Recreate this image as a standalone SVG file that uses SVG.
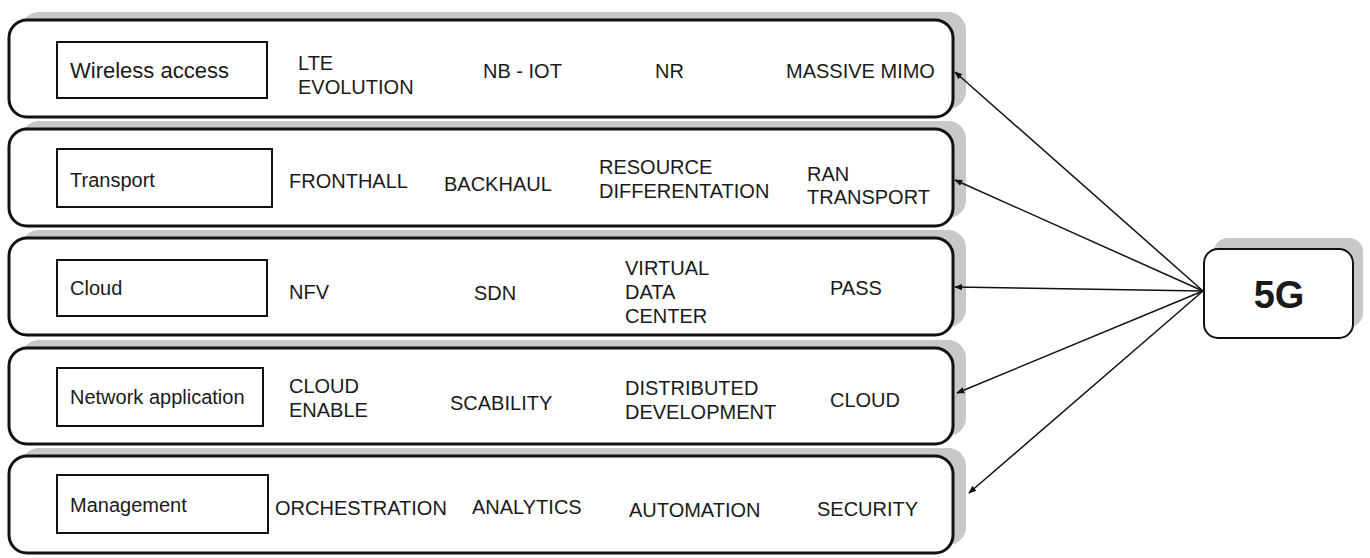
<svg xmlns="http://www.w3.org/2000/svg" width="1370" height="558" viewBox="0 0 1370 558">
<style>
.sh{fill:#c8c8c8}
.row{fill:#fff;stroke:#111;stroke-width:3}
.lbl{fill:#fff;stroke:#111;stroke-width:2}
text{font-family:"Liberation Sans",Arial,sans-serif;font-size:20px;fill:#1a1a1a}
.big{font-size:22px}
.g5{font-size:38px;font-weight:bold;text-anchor:middle}
.con{stroke:#111;stroke-width:1.5;fill:none;marker-end:url(#ah)}
</style>
<defs>
<marker id="ah" viewBox="0 0 10 10" refX="9" refY="5" markerWidth="8" markerHeight="8" markerUnits="userSpaceOnUse" orient="auto">
<path d="M0,1 L10,5 L0,9 z" fill="#111"/>
</marker>
</defs>
<rect width="1370" height="558" fill="#fff"/>

<g id="wireless">
<rect class="sh" x="21" y="12" width="945" height="97" rx="18"/>
<rect class="row" x="9" y="20" width="944" height="97" rx="18"/>
<rect class="lbl" x="57" y="42" width="210" height="56"/>
<text class="big" x="70" y="78">Wireless access</text>
<text x="298" y="70">LTE</text>
<text x="298" y="94">EVOLUTION</text>
<text x="483" y="78">NB - IOT</text>
<text x="655" y="78">NR</text>
<text x="786" y="78">MASSIVE MIMO</text>
</g>

<g id="transport">
<rect class="sh" x="21" y="121" width="945" height="97" rx="18"/>
<rect class="row" x="9" y="129" width="944" height="97" rx="18"/>
<rect class="lbl" x="57" y="149" width="215" height="58"/>
<text x="70" y="187">Transport</text>
<text x="289" y="188">FRONTHALL</text>
<text x="444" y="191">BACKHAUL</text>
<text x="599" y="174">RESOURCE</text>
<text x="599" y="198">DIFFERENTATION</text>
<text x="807" y="181">RAN</text>
<text x="807" y="204">TRANSPORT</text>
</g>

<g id="cloud">
<rect class="sh" x="21" y="230" width="945" height="97" rx="18"/>
<rect class="row" x="9" y="238" width="944" height="97" rx="18"/>
<rect class="lbl" x="57" y="260" width="210" height="56"/>
<text x="70" y="295">Cloud</text>
<text x="289" y="299">NFV</text>
<text x="474" y="300">SDN</text>
<text x="625" y="275">VIRTUAL</text>
<text x="625" y="299">DATA</text>
<text x="625" y="323">CENTER</text>
<text x="830" y="295">PASS</text>
</g>

<g id="netapp">
<rect class="sh" x="21" y="340" width="945" height="96" rx="18"/>
<rect class="row" x="9" y="348" width="944" height="96" rx="18"/>
<rect class="lbl" x="57" y="368" width="206" height="58"/>
<text x="70" y="404">Network application</text>
<text x="289" y="393">CLOUD</text>
<text x="289" y="417">ENABLE</text>
<text x="450" y="410">SCABILITY</text>
<text x="625" y="395">DISTRIBUTED</text>
<text x="625" y="419">DEVELOPMENT</text>
<text x="830" y="407">CLOUD</text>
</g>

<g id="management">
<rect class="sh" x="21" y="448" width="945" height="97" rx="18"/>
<rect class="row" x="9" y="456" width="944" height="97" rx="18"/>
<rect class="lbl" x="57" y="475" width="211" height="58"/>
<text x="70" y="512">Management</text>
<text x="275" y="515">ORCHESTRATION</text>
<text x="472" y="514">ANALYTICS</text>
<text x="629" y="517">AUTOMATION</text>
<text x="817" y="516">SECURITY</text>
</g>

<g id="n5g">
<rect class="sh" x="1214" y="238" width="149" height="89" rx="14"/>
<rect x="1204" y="249" width="149" height="89" rx="14" fill="#fff" stroke="#111" stroke-width="2"/>
<text class="g5" x="1279" y="308">5G</text>
</g>

<g id="connectors">
<line class="con" x1="1203" y1="291" x2="955" y2="72"/>
<line class="con" x1="1203" y1="291" x2="955" y2="180"/>
<line class="con" x1="1203" y1="291" x2="955" y2="287"/>
<line class="con" x1="1203" y1="291" x2="957" y2="393"/>
<line class="con" x1="1203" y1="291" x2="969" y2="493"/>
</g>
</svg>
